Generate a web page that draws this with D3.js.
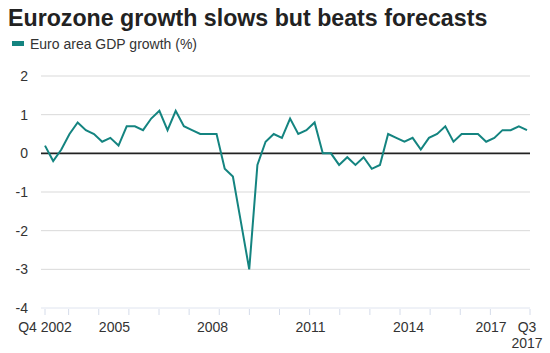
<!DOCTYPE html>
<html>
<head>
<meta charset="utf-8">
<script src="https://cdn.jsdelivr.net/npm/d3@7"></script>
<style>
  body { margin: 0; background: #fff; }
  svg { font-family: "Liberation Sans", Arial, Helvetica, sans-serif; }
</style>
</head>
<body>
<div id="chart"></div>
<script>
// quarterly GDP growth, Q4 2002 .. Q3 2017
let growth = [
    0.2, -0.2, 0.1, 0.5, 0.8,          // 2002Q4 - 2003Q4
    0.6, 0.5, 0.3, 0.4,                // 2004
    0.2, 0.7, 0.7, 0.6,                // 2005
    0.9, 1.1, 0.6, 1.1,                // 2006
    0.7, 0.6, 0.5, 0.5,                // 2007
    0.5, -0.4, -0.6, -1.8,             // 2008
    -3.0, -0.3, 0.3, 0.5,              // 2009
    0.4, 0.9, 0.5, 0.6,                // 2010
    0.8, 0.0, 0.0, -0.3,               // 2011
    -0.1, -0.3, -0.1, -0.4,            // 2012
    -0.3, 0.5, 0.4, 0.3,               // 2013
    0.4, 0.1, 0.4, 0.5,                // 2014
    0.7, 0.3, 0.5, 0.5,                // 2015
    0.5, 0.3, 0.4, 0.6,                // 2016
    0.6, 0.7, 0.6                      // 2017
];

let yTicks = [2, 1, 0, -1, -2, -3, -4];
// x labels, placed in quarter-index units (0 = Q4 2002)
let xLabels = ["Q4 2002", "2005", "2008", "2011", "2014", "2017", "Q3 2017"];
let xLabelPos = [0, 8.5, 20.5, 32.5, 44.5, 56.5, 59];

let teal = "#148480";

class growthLine {

    constructor(parentElement, data) {
        this.parentElement = parentElement;
        this.data = data;
        this.initVis();
    }

    initVis() {
        let vis = this;

        vis.width = 550;
        vis.height = 353;

        vis.svg = d3.select("#" + vis.parentElement).append("svg")
            .attr("width", vis.width)
            .attr("height", vis.height);

        // title + legend
        vis.svg.append("text")
            .attr("x", 8)
            .attr("y", 26)
            .attr("font-size", 23.2)
            .attr("font-weight", "bold")
            .attr("fill", "#222")
            .text("Eurozone growth slows but beats forecasts");

        vis.svg.append("rect")
            .attr("x", 12).attr("y", 41)
            .attr("width", 12).attr("height", 5)
            .attr("fill", teal);

        vis.svg.append("text")
            .attr("x", 30)
            .attr("y", 49)
            .attr("font-size", 14)
            .attr("fill", "#333")
            .text("Euro area GDP growth (%)");

        // scales
        vis.x = d3.scaleLinear()
            .domain([0, vis.data.length - 1])
            .range([45, 527]);

        vis.y = d3.scaleLinear()
            .domain([-4, 2])
            .range([308, 76]);

        vis.wrangleData();
    }

    wrangleData() {
        let vis = this;
        vis.points = vis.data.map((d, i) => ({ i: i, v: d }));
        vis.updateVis();
    }

    updateVis() {
        let vis = this;

        // gridlines
        vis.svg.selectAll(".grid")
            .data(yTicks.filter(d => d !== 0 && d !== -4))
            .join("line")
            .attr("class", "grid")
            .attr("x1", 41).attr("x2", 530)
            .attr("y1", d => vis.y(d)).attr("y2", d => vis.y(d))
            .attr("stroke", "#d9d9d9")
            .attr("stroke-width", 1);

        // y labels
        vis.svg.selectAll(".ylab")
            .data(yTicks)
            .join("text")
            .attr("class", "ylab")
            .attr("x", 28)
            .attr("y", d => vis.y(d) + 5)
            .attr("text-anchor", "end")
            .attr("font-size", 14)
            .attr("fill", "#333")
            .text(d => d);

        // bottom axis line + small ticks
        vis.svg.append("line")
            .attr("x1", 41).attr("x2", 530)
            .attr("y1", vis.y(-4)).attr("y2", vis.y(-4))
            .attr("stroke", "#dfe4ef")
            .attr("stroke-width", 1);

        let tickScale = d3.scaleLinear().domain([0, 16])
            .range([vis.x(0) - 6.5, vis.x(vis.data.length - 1) - 6.5]);
        let tickX = [vis.x(0)].concat(d3.range(1, 16).map(k => tickScale(k)), [vis.x(vis.data.length - 1) + 3]);

        vis.svg.selectAll(".xtick")
            .data(tickX)
            .join("line")
            .attr("class", "xtick")
            .attr("x1", d => d).attr("x2", d => d)
            .attr("y1", vis.y(-4) + 1).attr("y2", vis.y(-4) + 7)
            .attr("stroke", "#d5dcea")
            .attr("stroke-width", 1);

        // x labels
        let labs = vis.svg.selectAll(".xlab")
            .data(xLabels)
            .join("text")
            .attr("class", "xlab")
            .attr("x", (d, i) => vis.x(xLabelPos[i]))
            .attr("y", 332)
            .attr("text-anchor", d => d === "2017" ? "end" : "middle")
            .attr("font-size", 14)
            .attr("fill", "#333");

        labs.each(function (d) {
            let parts = d.startsWith("Q3") ? d.split(" ") : [d];
            d3.select(this).selectAll("tspan")
                .data(parts)
                .join("tspan")
                .attr("x", d3.select(this).attr("x"))
                .attr("dy", (p, j) => j === 0 ? 0 : 16)
                .text(p => p);
        });

        // zero line
        vis.svg.append("line")
            .attr("x1", 41).attr("x2", 530)
            .attr("y1", vis.y(0)).attr("y2", vis.y(0))
            .attr("stroke", "#222")
            .attr("stroke-width", 1.6);

        // the series
        let line = d3.line()
            .x(d => vis.x(d.i))
            .y(d => vis.y(d.v));

        vis.svg.append("path")
            .datum(vis.points)
            .attr("d", line)
            .attr("fill", "none")
            .attr("stroke", teal)
            .attr("stroke-width", 2)
            .attr("stroke-linejoin", "miter");
    }
}

new growthLine("chart", growth);
</script>
</body>
</html>
